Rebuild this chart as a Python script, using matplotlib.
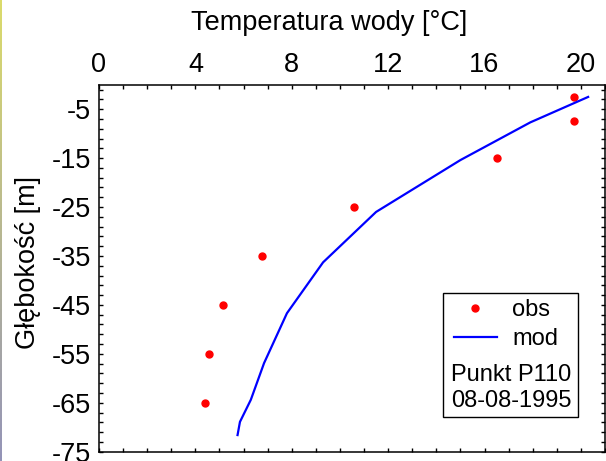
import matplotlib.pyplot as plt
import numpy as np
from matplotlib.lines import Line2D
from matplotlib.patches import Rectangle
from matplotlib.ticker import MultipleLocator

plt.rcParams['font.family'] = ['Liberation Sans', 'DejaVu Sans']
plt.rcParams['axes.unicode_minus'] = False

# obserwacje (punkt P110, 08-08-1995)
obs_temp = [19.7, 19.7, 16.5, 10.6, 6.75, 5.15, 4.55, 4.4]
obs_depth = [-2.5, -7.5, -15, -25, -35, -45, -55, -65]

# wynik modelu
mod_temp = [20.3, 17.9, 15.0, 11.5, 9.3, 7.8, 6.85, 6.3, 5.85, 5.75]
mod_depth = [-2.5, -7.7, -15.4, -26, -36.3, -46.7, -56.9, -64.4, -68.9, -71.6]

xticks = [0, 4, 8, 12, 16, 20]
yticks = [-5, -15, -25, -35, -45, -55, -65, -75]

fig = plt.figure(figsize=(6.06, 4.61), dpi=100)

# cienka ramka po lewej stronie (gradient)
edge = fig.add_axes([0, 0, 2 / 606, 1])
grad = np.linspace(0, 1, 100).reshape(-1, 1)
top_c = np.array([0.86, 0.86, 0.42])
bot_c = np.array([0.58, 0.58, 0.72])
edge.imshow(top_c + grad[:, :, None] * (bot_c - top_c), aspect='auto')
edge.axis('off')

ax = fig.add_axes([99 / 606, 9.3 / 461, 506 / 606, 367 / 461])

ax.plot(obs_temp, obs_depth, 'o', color='red', markersize=5, zorder=4)
ax.plot(mod_temp, mod_depth, '-', color='blue', linewidth=1.6, zorder=4)

ax.set_xlim(0, 21)
ax.set_ylim(-75, 0)
ax.set_xticks(xticks)
ax.set_yticks(yticks)
ax.xaxis.set_minor_locator(MultipleLocator(1))
ax.set_yticks(np.arange(-75, 0, 2), minor=True)

ax.tick_params(axis='both', which='both', direction='in', top=True, bottom=True,
               left=True, right=True, labeltop=True, labelbottom=False,
               labelsize=19.5, width=1, length=3)
ax.tick_params(axis='x', pad=5)
ax.tick_params(axis='y', pad=6)
for s in ax.spines.values():
    s.set_linewidth(1.1)

ax.xaxis.set_label_position('top')
ax.set_xlabel('Temperatura wody [°C]', fontsize=19.5)
ax.xaxis.set_label_coords((329 - 99) / 506, (451.7 - 30) / 367)
ax.set_ylabel('Głębokość [m]', fontsize=19.5)
ax.yaxis.set_label_coords((41 - 99) / 506, (451.7 - 262) / 367)

# ramka legendy
ax.add_patch(Rectangle((0.680, 0.094), 0.267, 0.339, transform=ax.transAxes,
                       facecolor='white', edgecolor='black', linewidth=1, zorder=5))
handles = [Line2D([], [], marker='o', color='red', linestyle='none', markersize=5),
           Line2D([], [], color='blue', linewidth=1.6)]
leg = ax.legend(handles, ['obs', 'mod'], loc='center left',
                bbox_to_anchor=(0.702, 0.3466), frameon=False, fontsize=17,
                borderpad=0, borderaxespad=0, handlelength=1.8,
                handletextpad=0.65, labelspacing=0.3)
leg.set_zorder(6)
ax.text(0.6952, 0.209, 'Punkt P110', transform=ax.transAxes, fontsize=17,
        ha='left', va='center', zorder=6)
ax.text(0.6952, 0.138, '08-08-1995', transform=ax.transAxes, fontsize=17,
        ha='left', va='center', zorder=6)

fig.savefig('out.png', dpi=100)
